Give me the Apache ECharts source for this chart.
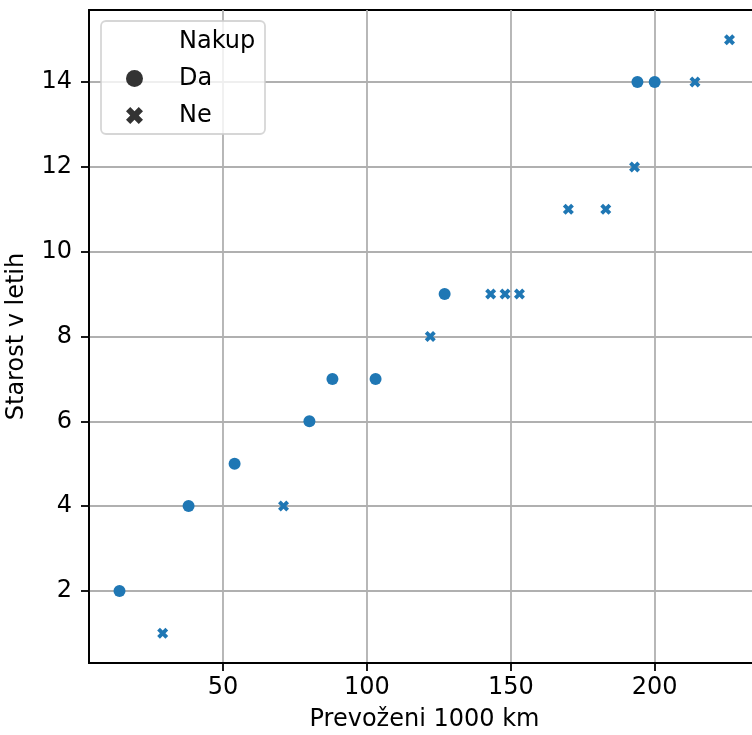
<!DOCTYPE html>
<html>
<head>
<meta charset="utf-8">
<script src="https://cdn.jsdelivr.net/npm/echarts@6/dist/echarts.min.js"></script>
<style>
  html, body { margin: 0; padding: 0; background: #ffffff; }
  #chart { width: 752px; height: 735px; }
</style>
</head>
<body>
<div id="chart"></div>
<script>
// Mileage (thousands of km) and age (years) of each car, split by purchase decision
const daKm   = [14, 38, 54, 80, 88, 103, 127, 194, 200];
const daAge  = [2, 4, 5, 6, 7, 7, 9, 14, 14];
const neKm   = [29, 71, 122, 143, 148, 153, 170, 183, 193, 214, 226];
const neAge  = [1, 4, 8, 9, 9, 9, 11, 11, 12, 14, 15];

const xTicks = [50, 100, 150, 200];
const yTicks = [2, 4, 6, 8, 10, 12, 14];

const legendTitle = 'Nakup';
const seriesNames = ['Da', 'Ne'];
const xTitle = 'Prevoženi 1000 km';
const yTitle = 'Starost v letih';

const FONT = 'DejaVu Sans';
const FS = 24;
const BLUE = '#1f77b4';
const DARK = '#333333';
// filled "X" marker
const CROSS = 'path://M44 2L58 16L44 30L58 44L44 58L30 44L16 58L2 44L16 30L2 16L16 2L30 16Z';

const zip = (a, b) => a.map((v, i) => [v, b[i]]);

const chart = echarts.init(document.getElementById('chart'), null, { renderer: 'canvas' });

const axisCommon = {
  type: 'value',
  axisLine: { show: true, onZero: false, lineStyle: { color: '#000', width: 1.8 } },
  axisTick: { show: true, length: 8, lineStyle: { color: '#000', width: 1.8 } },
  splitLine: { show: true, lineStyle: { color: '#b0b0b0', width: 1.8 } },
  nameLocation: 'middle',
  nameTextStyle: { fontFamily: FONT, fontSize: FS, color: '#000' }
};

chart.setOption({
  animation: false,
  backgroundColor: '#ffffff',
  textStyle: { fontFamily: FONT },
  grid: {
    left: 89, top: 10, width: 671, height: 653,
    show: true, borderColor: '#000', borderWidth: 1.8, backgroundColor: 'transparent',
    containLabel: false, outerBoundsMode: 'none'
  },
  xAxis: Object.assign({}, axisCommon, {
    min: 3.4, max: 236.6,
    name: xTitle, nameGap: 45,
    axisTick: Object.assign({}, axisCommon.axisTick, { customValues: xTicks }),
    axisLabel: { customValues: xTicks, margin: 13, fontFamily: FONT, fontSize: FS, color: '#000' }
  }),
  yAxis: Object.assign({}, axisCommon, {
    min: 0.3, max: 15.7,
    name: yTitle, nameGap: 60,
    axisTick: Object.assign({}, axisCommon.axisTick, { customValues: yTicks }),
    axisLabel: { customValues: yTicks, margin: 17, fontFamily: FONT, fontSize: FS, color: '#000' }
  }),
  legend: {
    orient: 'vertical',
    left: 126, top: 66.5,
    padding: 0,
    itemGap: 13,
    itemWidth: 17, itemHeight: 17,
    selectedMode: false,
    z: 5,
    textStyle: { fontFamily: FONT, fontSize: FS, color: '#000', lineHeight: 22, padding: [0, 0, 0, 31] },
    data: [
      { name: seriesNames[0], icon: 'circle', itemStyle: { color: DARK } },
      { name: seriesNames[1], icon: CROSS, itemStyle: { color: DARK } }
    ]
  },
  graphic: [
    {
      type: 'rect', z: 4,
      shape: { x: 101, y: 21, width: 164, height: 113, r: 5 },
      style: { fill: 'rgba(255,255,255,0.8)', stroke: 'rgba(204,204,204,0.8)', lineWidth: 1.8 }
    },
    {
      type: 'text', z: 6, x: 179, y: 42,
      style: { text: legendTitle, font: FS + 'px "' + FONT + '"', fill: '#000', textVerticalAlign: 'middle' }
    }
  ],
  series: [
    {
      name: seriesNames[0], type: 'scatter', symbol: 'circle', symbolSize: 12,
      itemStyle: { color: BLUE, opacity: 1 },
      data: zip(daKm, daAge)
    },
    {
      name: seriesNames[1], type: 'scatter', symbol: CROSS, symbolSize: 11,
      itemStyle: { color: BLUE, opacity: 1 },
      data: zip(neKm, neAge)
    }
  ]
});
</script>
</body>
</html>
